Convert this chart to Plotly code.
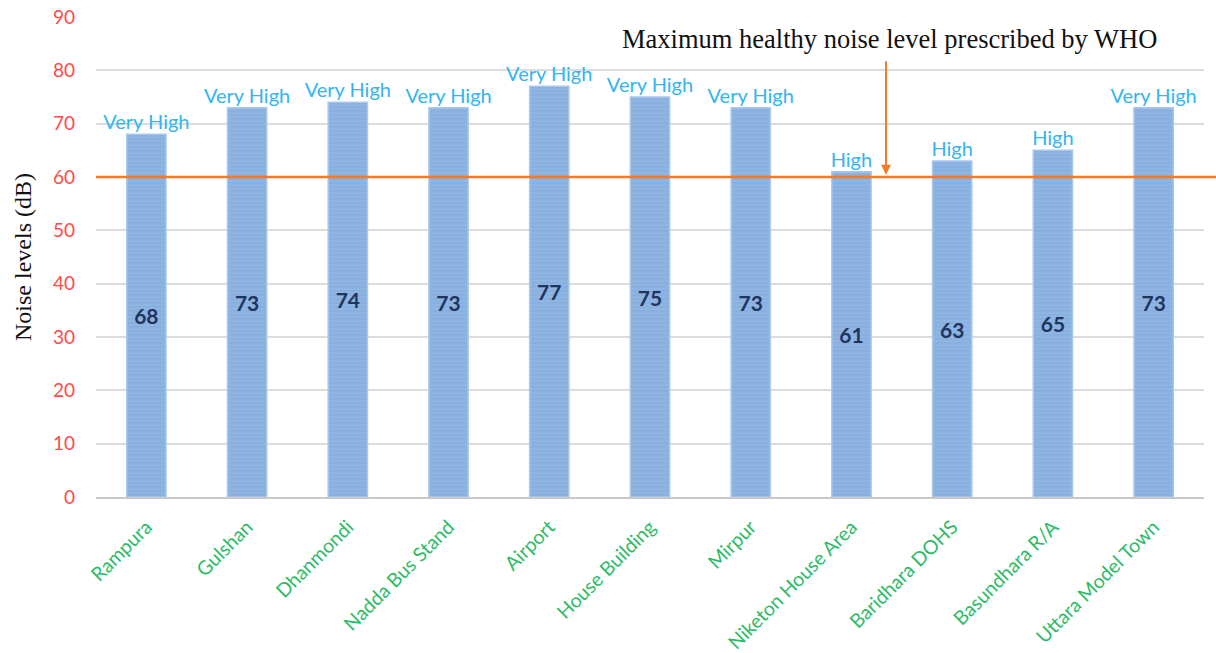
import plotly.graph_objects as go

locations = ["Rampura", "Gulshan", "Dhanmondi", "Nadda Bus Stand", "Airport",
             "House Building", "Mirpur", "Niketon House Area", "Baridhara DOHS",
             "Basundhara R/A", "Uttara Model Town"]
noise_db = [68, 73, 74, 73, 77, 75, 73, 61, 63, 65, 73]
levels = ["Very High", "Very High", "Very High", "Very High", "Very High", "Very High",
          "Very High", "High", "High", "High", "Very High"]
who_limit = 60
y_ticks = [0, 10, 20, 30, 40, 50, 60, 70, 80, 90]

fig = go.Figure()
fig.add_trace(go.Bar(
    x=locations, y=noise_db,
    text=[str(v) for v in noise_db],
    textposition="inside", insidetextanchor="middle",
    textfont=dict(family="Lato", size=21, color="#1f3560", weight="bold"),
    marker=dict(color="#8fb5e3", line=dict(color="#a9c8ec", width=1.5),
                pattern=dict(shape="-", fgcolor="#7aa2d6", size=4, solidity=0.3)),
    width=0.39, showlegend=False, hoverinfo="skip", cliponaxis=False,
))
fig.add_trace(go.Scatter(
    x=locations, y=noise_db, mode="text", text=levels,
    textposition="top center",
    textfont=dict(family="Lato", size=20, color="#33b5ee"),
    showlegend=False, hoverinfo="skip", cliponaxis=False,
))

fig.add_shape(type="line", xref="paper", yref="y", x0=0, x1=1.011,
              y0=who_limit, y1=who_limit, line=dict(color="#f07b2a", width=2.5))

fig.add_annotation(
    xref="paper", yref="y", x=0.713, y=who_limit + 0.4,
    ax=0, ay=-115,
    showarrow=True, arrowhead=2, arrowsize=1, arrowwidth=2, arrowcolor="#f07b2a",
    text="",
)
fig.add_annotation(
    xref="paper", yref="y", x=0.716, y=85.8,
    text="Maximum healthy noise level prescribed by WHO", showarrow=False,
    font=dict(family="Liberation Serif", size=26.5, color="#111111"),
    xanchor="center", yanchor="middle",
)

fig.update_layout(
    width=1216, height=653,
    margin=dict(l=96, r=12, t=17, b=156),
    paper_bgcolor="white", plot_bgcolor="white",
    bargap=0.6,
    xaxis=dict(tickangle=-45, tickfont=dict(family="Lato", size=19.5, color="#2dbb68"),
               range=[-0.5, len(locations) - 0.5],
               showline=True, linecolor="#c8c8c8", linewidth=2, showgrid=False,
               ticks="", automargin=False, ticklabelstandoff=9),
    yaxis=dict(range=[0, 90], tickvals=y_ticks,
               tickfont=dict(family="Lato", size=19, color="#ff4a4a"),
               showgrid=True, gridcolor="#dcdcdc", gridwidth=1.5, zeroline=False,
               ticklabelstandoff=20, automargin=False,
               title=dict(text="Noise levels (dB)",
                          font=dict(family="Liberation Serif", size=24, color="#111111"),
                          standoff=14)),
)

fig.write_html("out.html")
